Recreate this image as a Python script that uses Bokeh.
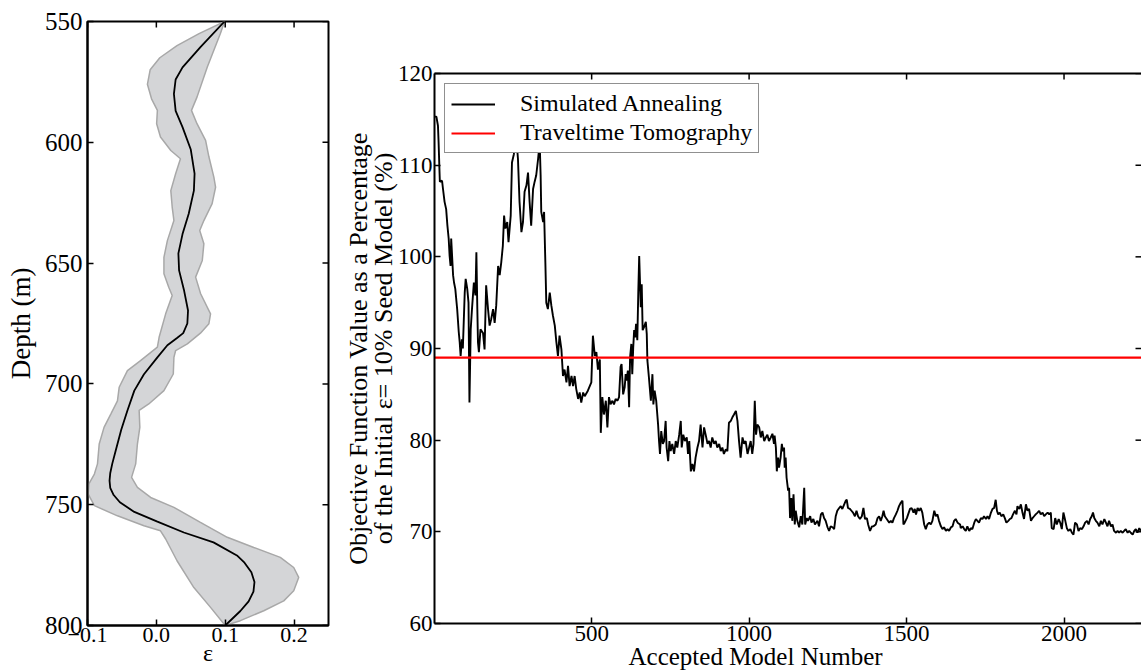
import math
from bokeh.plotting import figure
from bokeh.layouts import row, column
from bokeh.models import Range1d, FixedTicker, LinearAxis, Legend, LegendItem, Spacer, Title
from bokeh.embed import file_html
from bokeh.resources import INLINE

FONT = "Liberation Serif"

# ---------------- left panel data: epsilon vs depth ----------------
depth_mean = [550, 560.6, 569, 574, 580, 587, 593.7, 603, 613, 620, 629.6, 638, 646, 653,
              661, 669.6, 675, 679, 681, 684, 689, 696, 702.8, 711, 719, 727.6, 733, 737, 740,
              743, 746, 749, 753, 757, 761.5, 765.6, 771, 774, 778, 782, 786, 790, 794, 797, 800]
eps_mean = [0.099, 0.064, 0.038, 0.028, 0.0255, 0.028, 0.038, 0.050, 0.0555, 0.0545, 0.047,
            0.038, 0.032, 0.033, 0.040, 0.046, 0.045, 0.039, 0.030, 0.016, 0.0015, -0.018,
            -0.032, -0.042, -0.051, -0.059, -0.064, -0.067, -0.068, -0.067, -0.062, -0.053,
            -0.032, 0.0015, 0.040, 0.083, 0.117, 0.128, 0.138, 0.1425, 0.141, 0.134, 0.122,
            0.111, 0.100]

depth_lower = [550, 555, 560, 565, 570, 576, 582, 586.8, 592.3, 597.8, 603.4, 606.8, 613, 620,
               626.8, 632.4, 640.7, 647.6, 654.4, 660, 663.4, 671, 680.7, 684.8, 690.4, 694.5,
               701.4, 707, 712.4, 718, 724.9, 733.1, 737.3, 741.4, 745.6, 750.4, 754.6, 758.7,
               760.8, 764.2, 773.2, 784.3, 792.5, 800]
eps_lower = [0.099, 0.062, 0.030, 0.005, -0.009, -0.013, -0.007, 0.0015, 0.0004, 0.006, 0.021,
             0.035, 0.028, 0.021, 0.023, 0.0255, 0.016, 0.011, 0.011, 0.018, 0.023, 0.0135,
             0.004, 0.0015, -0.023, -0.042, -0.054, -0.0565, -0.066, -0.076, -0.083, -0.0855,
             -0.090, -0.098, -0.099, -0.090, -0.0565, -0.018, 0.006, 0.0135, 0.030, 0.0545,
             0.0787, 0.100]

depth_upper = [550, 555, 568.8, 581.3, 586.8, 592.3, 599.2, 606, 614.4, 618.6, 625.4, 632.4,
               636.5, 642, 648.9, 655.8, 662.7, 671, 675.1, 679, 683.4, 686.2, 689, 695.9,
               702.8, 708.3, 711, 718, 724.9, 733.1, 738.7, 742.8, 747, 751.1, 757.3, 763.5,
               767.7, 771.8, 776, 780.1, 785.6, 789.8, 793.9, 798, 800]
eps_upper = [0.099, 0.093, 0.074, 0.059, 0.051, 0.059, 0.0715, 0.0763, 0.0835, 0.086, 0.081,
             0.069, 0.063, 0.069, 0.0667, 0.057, 0.0643, 0.0787, 0.0763, 0.064, 0.045, 0.028,
             0.0255, 0.0246, 0.011, -0.011, -0.025, -0.024, -0.0275, -0.030, -0.036, -0.0275,
             -0.0083, 0.0255, 0.064, 0.103, 0.1415, 0.180, 0.1995, 0.2067, 0.1995, 0.185,
             0.156, 0.122, 0.100]

eps_ticks = [-0.1, 0.0, 0.1, 0.2]
eps_tick_labels = ["\u22120.1", "0.0", "0.1", "0.2"]
depth_ticks = [550, 600, 650, 700, 750, 800]
eps_lim = (-0.1, 0.25)
depth_lim = (800, 550)

# ---------------- right panel data: objective function ----------------
model_number = [
    1, 7, 12, 14, 17, 18, 25, 28, 33, 38, 42, 46, 49, 52, 54, 60, 63, 67, 73, 78, 81, 84, 88, 91,
    97, 100, 105, 109, 112, 116, 120, 126, 131, 134, 137, 139, 142, 147, 155, 160, 165, 171, 176,
    181, 187, 192, 197, 203, 208, 213, 218, 222, 226, 232, 236, 243, 247, 253, 258, 263, 266, 271,
    277, 282, 287, 293, 298, 303, 308, 314, 319, 324, 330, 335, 338, 340, 346, 349, 353, 356, 361,
    367, 372, 377, 383, 388, 393, 398, 404, 409, 414, 420, 425, 430, 436, 441, 446, 451, 457, 462,
    467, 473, 478, 488, 499, 504, 510, 515, 520, 526, 529,
    534, 539, 545, 550, 555, 560, 566, 571, 576, 582, 587, 592, 595, 600, 605, 608, 611, 615, 619,
    622, 626, 629, 632, 635, 638, 641, 645, 648, 651, 654, 656, 659, 662, 666, 672, 675, 677, 682,
    688, 693, 696, 700, 705, 711, 714, 717, 721, 726, 730, 735, 738, 743, 747, 751, 756, 762, 767,
    772, 778, 783, 786, 791, 796, 802, 806, 810, 815, 820, 825, 830, 836, 841, 846, 852, 857, 862,
    868, 873, 878, 883, 889, 894, 899, 905, 910, 915, 920, 926, 931, 936, 942, 947, 952, 958, 963,
    968, 973, 979, 984, 989, 995, 1000, 1005, 1010, 1014, 1018, 1022, 1026, 1032, 1037, 1042, 1048,
    1053, 1058, 1063,
    1069, 1074, 1079, 1081, 1085, 1088, 1092, 1095, 1100, 1104, 1107, 1111, 1113, 1116, 1119, 1124,
    1127, 1130, 1134, 1137, 1141, 1145, 1148, 1153, 1159, 1164, 1169, 1175, 1178, 1183, 1187, 1194,
    1198, 1204, 1209, 1217, 1222, 1228, 1233, 1238, 1243, 1249, 1254, 1259, 1265, 1270, 1275, 1280,
    1286, 1291, 1296, 1302, 1307, 1310, 1314, 1320, 1325, 1330, 1336, 1341, 1346, 1352, 1358, 1363,
    1368, 1374, 1378, 1384, 1390, 1395, 1402, 1408, 1413, 1418, 1423, 1427, 1431, 1437, 1445, 1450,
    1455, 1460, 1466, 1471, 1476, 1482, 1487, 1490, 1494, 1501, 1505, 1511, 1516, 1522, 1526, 1530,
    1535, 1540, 1545, 1550, 1556, 1561, 1566, 1572, 1577, 1582, 1588, 1593, 1598, 1603, 1609, 1614,
    1619, 1625, 1630, 1635, 1641, 1646, 1651, 1656, 1662, 1670,
    1672, 1678, 1683, 1688, 1693, 1699, 1704, 1709, 1715, 1720, 1725, 1730, 1736, 1741, 1746, 1752,
    1757, 1762, 1768, 1773, 1778, 1783, 1787, 1791, 1796, 1801, 1807, 1812, 1817, 1823, 1828, 1833,
    1838, 1844, 1849, 1852, 1858, 1863, 1868, 1873, 1879, 1884, 1889, 1895, 1900, 1905, 1910, 1916,
    1921, 1926, 1932, 1937, 1942, 1948, 1953, 1958, 1961, 1967, 1972, 1977, 1983, 1988, 1993, 1998,
    2004, 2009, 2014, 2020, 2025, 2030, 2035, 2041, 2046, 2051, 2057, 2062, 2067, 2073, 2078, 2083,
    2088, 2092, 2096, 2101, 2106, 2112, 2117, 2122, 2128, 2133, 2138, 2143, 2149, 2154, 2159, 2165,
    2170, 2175, 2180, 2186, 2191, 2196, 2202, 2207, 2212, 2218, 2223, 2228, 2233, 2239, 2244]
objective_pct = [
    115.3, 115.3, 114.3, 112.5, 109.2, 108.2, 108.3, 107.4, 106.0, 105.2, 103.4, 102.0, 100.1, 99.0,
    102.0, 98.0, 97.2, 96.5, 94.3, 91.8, 90.7, 89.2, 91.0, 90.0, 96.1, 97.6, 96.5, 95.0, 84.1, 92.1,
    94.3, 97.2, 95.8, 100.5, 94.3, 90.7, 89.6, 92.1, 91.7, 89.9, 96.9, 94.3, 92.5, 93.2, 94.3, 92.8,
    94.7, 99.0, 98.0, 99.4, 101.2, 104.5, 103.1, 103.8, 101.6, 104.5, 110.3, 111.2, 113.0, 112.0,
    110.7, 106.0, 102.7, 103.8, 107.1, 107.8, 109.2, 106.0, 103.4, 107.4, 108.2, 108.9, 110.7,
    112.5, 108.9, 104.9, 103.8, 104.9, 99.4, 95.0, 94.3, 96.1, 94.7, 93.6, 92.5, 90.7, 89.2, 91.4,
    89.9, 87.0, 87.7, 86.3, 88.1, 85.9, 87.0, 85.9, 87.0, 85.6, 84.5, 85.2, 84.1, 85.2, 84.8, 85.4,
    86.3, 91.4, 89.2, 89.6, 87.7, 88.8, 80.8,
    84.7, 82.8, 84.3, 81.4, 84.7, 83.9, 84.3, 83.9, 84.5, 84.3, 84.7, 88.0, 88.3, 85.0, 85.8, 87.2,
    86.5, 87.6, 83.6, 89.0, 90.5, 87.2, 90.1, 92.0, 91.2, 92.7, 90.9, 96.0, 100.1, 96.7, 94.5, 97.0,
    92.0, 92.3, 92.9, 91.6, 88.7, 86.8, 84.3, 87.2, 83.9, 85.4, 84.3, 81.7, 79.9, 78.5, 81.0, 79.6,
    79.9, 82.1, 79.2, 77.7, 79.9, 78.8, 79.6, 78.5, 79.9, 79.2, 80.6, 82.1, 79.2, 80.6, 79.9, 80.3,
    78.5, 79.9, 76.6, 77.4, 76.6, 78.1, 79.2, 79.9, 81.7, 79.2, 81.4, 80.6, 79.6, 79.9, 79.2, 80.3,
    79.6, 79.9, 79.2, 79.6, 78.8, 79.2, 78.5, 79.0, 78.8, 81.9, 82.1, 82.5, 82.8, 83.2, 82.1, 79.9,
    78.1, 80.3, 79.6, 79.9, 78.5, 79.2, 79.9, 78.5, 79.6, 84.3, 80.6, 81.7, 81.4, 80.3, 81.0, 79.9,
    80.3, 80.6, 79.9,
    80.3, 80.7, 79.6, 80.5, 79.2, 76.6, 78.1, 77.0, 78.1, 79.6, 78.8, 79.2, 77.0, 78.1, 75.9, 74.5,
    74.8, 71.5, 73.7, 71.2, 74.1, 70.8, 72.3, 71.2, 70.5, 71.7, 70.8, 74.8, 70.8, 71.5, 71.2, 71.7,
    71.0, 71.4, 70.8, 71.2, 70.6, 71.9, 72.1, 71.5, 71.2, 70.5, 70.1, 70.6, 70.5, 70.3, 71.7, 72.3,
    72.6, 72.8, 72.5, 73.0, 73.4, 73.5, 72.6, 72.5, 72.3, 72.1, 71.7, 72.3, 71.7, 71.4, 71.7, 72.6,
    71.4, 71.5, 70.8, 70.1, 70.6, 70.6, 70.8, 71.5, 71.7, 71.2, 71.7, 72.3, 71.7, 71.4, 71.0, 71.2,
    71.0, 71.5, 71.9, 72.3, 72.8, 73.2, 73.4, 70.8, 71.0, 71.5, 71.9, 72.5, 72.6, 72.1, 72.5, 71.9,
    72.6, 72.3, 72.6, 72.1, 70.8, 70.3, 70.8, 71.0, 70.8, 71.2, 72.3, 71.7, 71.9, 71.2, 70.6, 70.3,
    70.5, 70.1, 70.3, 70.1, 70.5, 70.6, 71.2, 71.4, 71.0, 70.8,
    70.4, 70.6, 70.3, 70.1, 70.6, 70.1, 70.4, 70.3, 71.0, 71.4, 71.2, 71.0, 71.5, 71.4, 71.7, 71.4,
    71.7, 71.4, 72.1, 72.5, 72.6, 73.5, 72.3, 71.9, 72.1, 71.7, 71.9, 71.5, 71.0, 71.2, 71.4, 71.5,
    71.9, 72.3, 71.9, 72.8, 72.5, 73.0, 72.1, 71.4, 73.0, 72.3, 72.5, 71.2, 71.5, 71.7, 71.9, 72.1,
    72.3, 71.9, 72.1, 71.7, 71.9, 72.1, 71.9, 72.1, 70.4, 70.3, 71.5, 70.8, 71.4, 71.0, 70.3, 72.1,
    71.2, 70.4, 70.1, 70.3, 69.9, 69.7, 71.0, 70.8, 70.1, 70.4, 70.3, 70.6, 71.0, 71.2, 70.8, 71.4,
    71.7, 72.1, 71.5, 71.2, 71.0, 70.6, 71.2, 70.8, 71.4, 71.0, 70.6, 71.2, 70.6, 70.8, 70.1, 69.9,
    70.1, 69.9, 70.1, 69.9, 70.1, 70.3, 69.9, 70.1, 69.9, 69.7, 70.1, 70.3, 69.9, 70.4, 70.1]

tomography_pct = 89.0
model_lim = (1, 2246)
obj_lim = (60, 120)
model_ticks = [500, 1000, 1500, 2000]
obj_ticks = [60, 70, 80, 90, 100, 110, 120]
ylabel_lines = ["Objective Function Value as a Percentage",
                "of the Initial \u03b5= 10% Seed Model (%)"]


def style_axis(ax, size):
    ax.major_label_text_font = FONT
    ax.major_label_text_font_size = size
    ax.major_label_text_color = "black"
    ax.axis_label_text_font = FONT
    ax.axis_label_text_font_style = "normal"
    ax.axis_label_text_color = "black"
    ax.major_tick_in = 6
    ax.major_tick_out = 0
    ax.major_tick_line_width = 1.5
    ax.major_tick_line_color = "black"
    ax.minor_tick_line_color = None
    ax.axis_line_width = 2
    ax.axis_line_color = "black"


def inner_ticks(p, xs, ys, angle):
    p.ray(x=xs, y=ys, length=6, length_units="screen", angle=angle,
          line_color="black", line_width=1.5)


# ---------------- left figure ----------------
p1 = figure(width=340, height=671, output_backend="svg", toolbar_location=None,
            x_range=Range1d(*eps_lim), y_range=Range1d(*depth_lim),
            min_border_left=87, min_border_right=12, min_border_top=21, min_border_bottom=46)
p1.grid.visible = False
p1.outline_line_color = "black"
p1.outline_line_width = 2
p1.background_fill_color = "white"
p1.border_fill_color = "white"

band_x = eps_lower + eps_upper[::-1]
band_y = depth_lower + depth_upper[::-1]
p1.patch(band_x, band_y, fill_color="#d4d5d7", line_color="#a8a8a8", line_width=1.5)
p1.line(eps_mean, depth_mean, line_color="black", line_width=1.8)

# inward ticks on the top and right spines
inner_ticks(p1, eps_ticks, [depth_lim[1]] * len(eps_ticks), -math.pi / 2)
inner_ticks(p1, [eps_lim[1]] * len(depth_ticks), depth_ticks, math.pi)

p1.xaxis.ticker = FixedTicker(ticks=eps_ticks)
p1.xaxis.major_label_overrides = dict(zip(eps_ticks, eps_tick_labels))
p1.yaxis.ticker = FixedTicker(ticks=depth_ticks)
for ax in p1.xaxis:
    style_axis(ax, "22px")
for ax in p1.yaxis:
    style_axis(ax, "25px")
p1.xaxis.axis_label = "\u03b5"
p1.xaxis.axis_label_text_font_size = "24px"
p1.xaxis.major_label_standoff = 2
p1.xaxis.axis_label_standoff = -5
p1.yaxis.axis_label = "Depth (m)"
p1.yaxis.axis_label_text_font_size = "27px"
p1.yaxis.major_label_standoff = 5
p1.yaxis.axis_label_standoff = 6

# ---------------- right figure ----------------
spacer_h = 52
p2 = figure(width=801, height=671 - spacer_h, output_backend="svg", toolbar_location=None,
            x_range=Range1d(*model_lim), y_range=Range1d(*obj_lim),
            min_border_left=94, min_border_right=0, min_border_top=21, min_border_bottom=48)
p2.grid.visible = False
p2.outline_line_color = None
p2.background_fill_color = "white"
p2.border_fill_color = "white"

sa = p2.line(model_number, objective_pct, line_color="black", line_width=1.9)
tt = p2.line(list(model_lim), [tomography_pct, tomography_pct], line_color="#ff0000",
             line_width=2.2)

inner_ticks(p2, model_ticks, [obj_lim[1]] * len(model_ticks), -math.pi / 2)
inner_ticks(p2, [model_lim[1]] * len(obj_ticks), obj_ticks, math.pi)

p2.xaxis.ticker = FixedTicker(ticks=model_ticks)
p2.yaxis.ticker = FixedTicker(ticks=obj_ticks)
for ax in p2.xaxis + p2.yaxis:
    style_axis(ax, "23px")
p2.xaxis.major_label_standoff = 2
p2.yaxis.major_label_standoff = 2

# two-line y label: inner line first (closest to the axis), outer line second
for line_text in ylabel_lines[::-1]:
    p2.add_layout(Title(text=line_text, align="center", text_font=FONT,
                        text_font_size="26px", text_font_style="normal",
                        text_color="black", standoff=-6), "left")

# x label placed left of the frame centre, as in the reference
xlabel = Title(text="Accepted Model Number", align="left", offset=194,
               text_font=FONT, text_font_size="25px", text_font_style="normal",
               text_color="black", standoff=-6)
p2.add_layout(xlabel, "below")

# top spine (the right spine lies outside the window in the reference)
top_ax = LinearAxis(ticker=FixedTicker(ticks=[]))
style_axis(top_ax, "23px")
p2.add_layout(top_ax, "above")

legend = Legend(items=[LegendItem(label="Simulated Annealing", renderers=[sa]),
                       LegendItem(label="Traveltime Tomography", renderers=[tt])],
                location="top_left", margin=10, padding=6, spacing=2,
                glyph_width=44, glyph_height=26, label_height=26, label_standoff=25,
                label_text_font=FONT, label_text_font_size="24px",
                label_text_color="black",
                border_line_color="#222222", border_line_width=1.5,
                background_fill_color="white", background_fill_alpha=1.0)
p2.add_layout(legend, "center")

layout = row(p1, column(Spacer(width=801, height=spacer_h), p2))
open("out.html", "w").write(file_html(layout, INLINE))
